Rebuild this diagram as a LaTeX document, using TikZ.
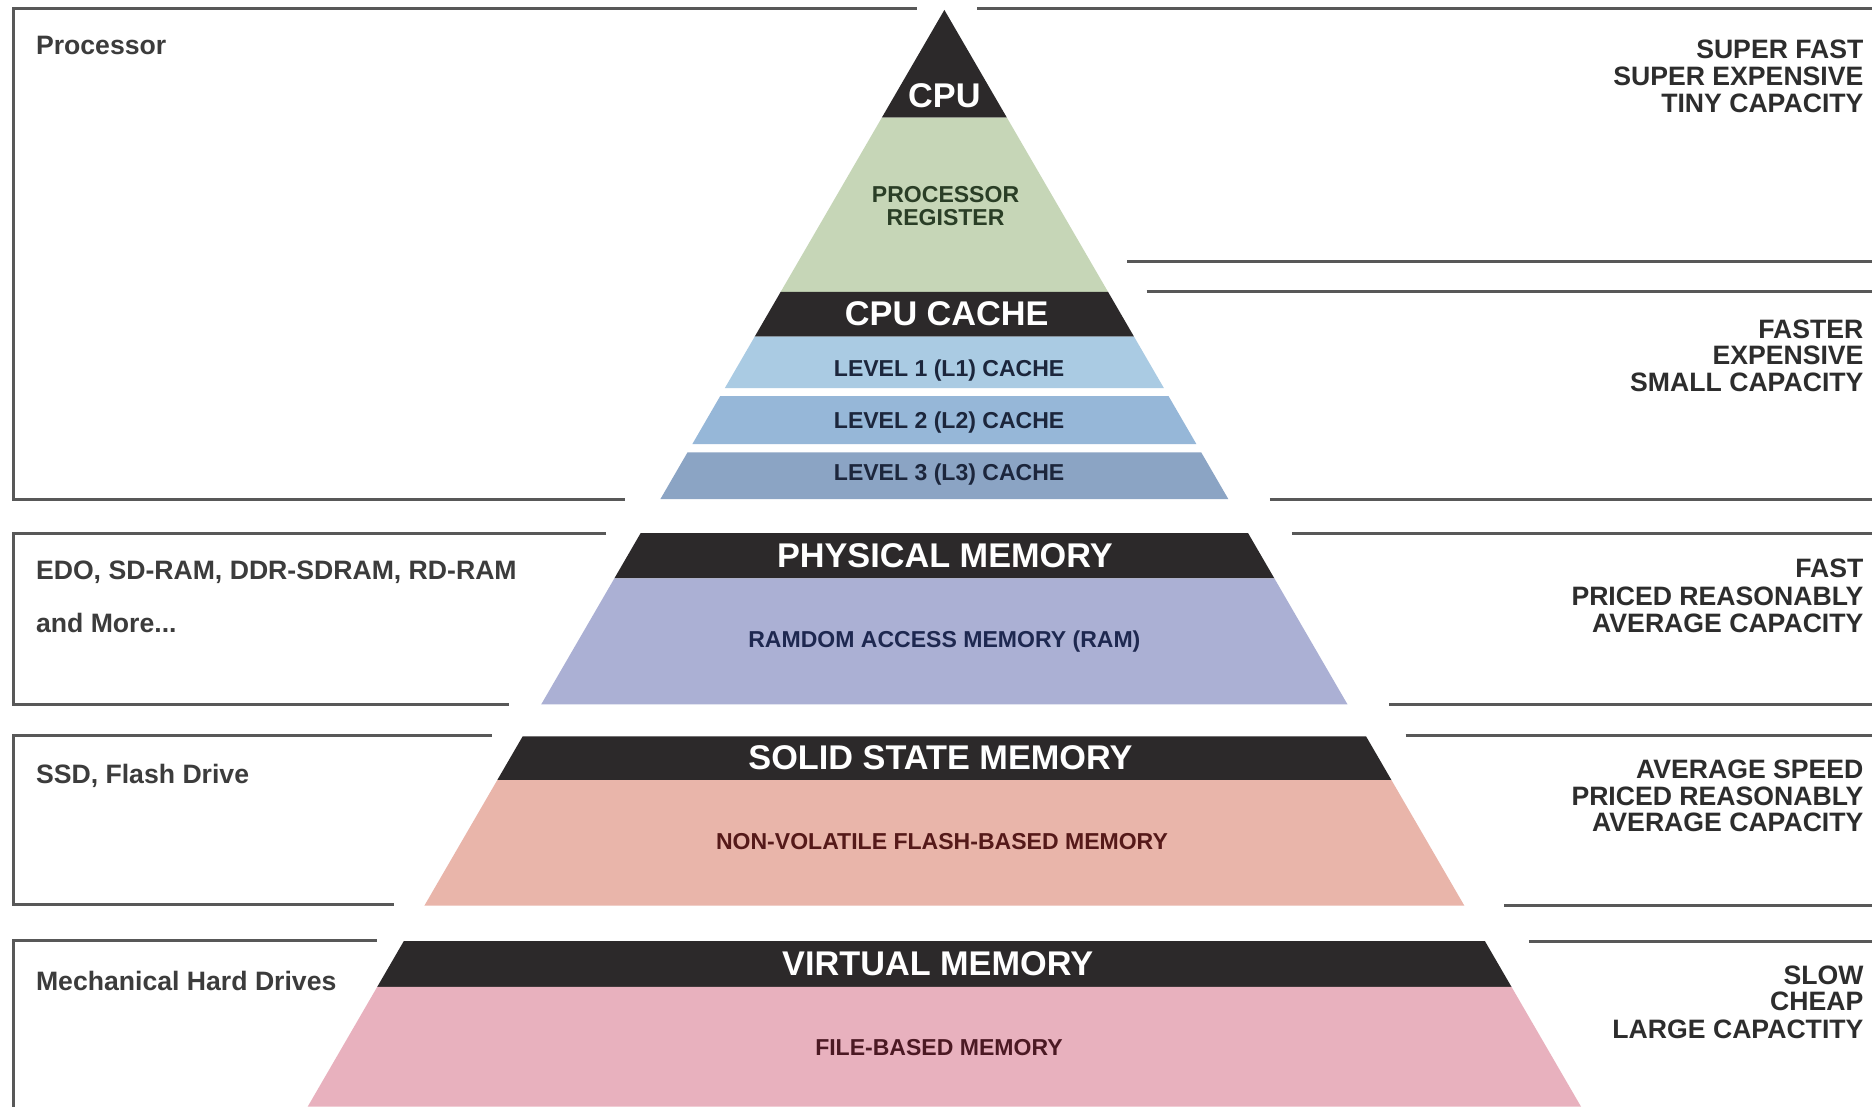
\documentclass[tikz,border=0pt]{standalone}
\usepackage{fontspec}
\setmainfont{Liberation Sans}
\definecolor{darkband}{RGB}{44,41,42}
\definecolor{regfill}{RGB}{198,214,183}
\definecolor{regtext}{RGB}{42,62,38}
\definecolor{lonefill}{RGB}{170,203,227}
\definecolor{ltwofill}{RGB}{150,183,216}
\definecolor{lthreefill}{RGB}{139,164,196}
\definecolor{cachetext}{RGB}{28,38,60}
\definecolor{ramfill}{RGB}{171,176,212}
\definecolor{ramtext}{RGB}{30,40,80}
\definecolor{ssdfill}{RGB}{233,181,170}
\definecolor{ssdtext}{RGB}{85,25,25}
\definecolor{vmfill}{RGB}{232,177,190}
\definecolor{vmtext}{RGB}{75,25,35}
\definecolor{linegray}{RGB}{88,88,88}
\definecolor{lefttext}{RGB}{60,60,60}
\definecolor{righttext}{RGB}{45,45,45}
\newcommand\fsz[1]{\fontsize{#1}{#1}\selectfont}
\newcommand\trapband[3]{\fill[#1] ({791-0.5805*(#2-8.3)},#2) -- ({791+0.5805*(#2-8.3)},#2) -- ({791+0.5805*(#3-8.3)},#3) -- ({791-0.5805*(#3-8.3)},#3) -- cycle;}
\begin{document}
\begin{tikzpicture}[x=1pt,y=-1pt,
  biglabel/.style={text=white, font=\bfseries\fsz{28.7}, inner sep=0pt, anchor=base},
  smalllabel/.style={font=\bfseries\fsz{19.3}, inner sep=0pt, anchor=base},
  lefttxt/.style={text=lefttext, font=\bfseries\fsz{22.3}, inner sep=0pt, anchor=base west},
  righttxt/.style={text=righttext, font=\bfseries\fsz{22.3}, inner sep=0pt, anchor=base east},
  rule/.style={line width=2.5pt, draw=linegray}]
\useasboundingbox (0,0) rectangle (1568,927);
\fill[white] (0,0) rectangle (1568,927);

% pyramid bands
\trapband{darkband}{8.3}{98.6}
\trapband{regfill}{98.6}{244.4}
\trapband{darkband}{244.4}{281.9}
\trapband{lonefill}{281.9}{325}
\trapband{ltwofill}{331.8}{372}
\trapband{lthreefill}{379}{418}
\trapband{darkband}{446.5}{484.5}
\trapband{ramfill}{484.5}{590}
\trapband{darkband}{616.7}{653.5}
\trapband{ssdfill}{653.5}{758.5}
\trapband{darkband}{788.3}{826.7}
\trapband{vmfill}{826.7}{927}

% frame lines
\draw[rule] (768,7) -- (11.2,7) -- (11.2,418) -- (523.5,418);
\draw[rule] (818.5,7) -- (1568,7);
\draw[rule] (944,219.4) -- (1568,219.4);
\draw[rule] (960.5,244.4) -- (1568,244.4);
\draw[rule] (1063.7,418) -- (1568,418);
\draw[rule] (507.6,446.5) -- (11.2,446.5) -- (11.2,589.8) -- (426.3,589.8);
\draw[rule] (1082,446.5) -- (1568,446.5);
\draw[rule] (1163.7,589.8) -- (1568,589.8);
\draw[rule] (412,615.8) -- (11.2,615.8) -- (11.2,758) -- (330,758);
\draw[rule] (1177.4,615.8) -- (1568,615.8);
\draw[rule] (1260,758.5) -- (1568,758.5);
\draw[rule] (315.7,787.5) -- (11.2,787.5) -- (11.2,928);
\draw[rule] (1280.6,788.3) -- (1568,788.3);

% pyramid labels
\node[biglabel] (cpu) at (791,90.3) {CPU};
\node[smalllabel, text=regtext] (proc) at (792,170) {PROCESSOR};
\node[smalllabel, text=regtext] (reg) at (792,188.8) {REGISTER};
\node[biglabel] (cache) at (793,273) {CPU CACHE};
\node[smalllabel, text=cachetext] (lone) at (795,315.2) {LEVEL 1 (L1) CACHE};
\node[smalllabel, text=cachetext] (ltwo) at (795,358.8) {LEVEL 2 (L2) CACHE};
\node[smalllabel, text=cachetext] (lthree) at (795,402.7) {LEVEL 3 (L3) CACHE};
\node[biglabel] (phys) at (791.4,475.6) {PHYSICAL MEMORY};
\node[smalllabel, text=ramtext] (ram) at (791,542.1) {RAMDOM ACCESS MEMORY (RAM)};
\node[biglabel] (ssd) at (787.7,644.9) {SOLID STATE MEMORY};
\node[smalllabel, text=ssdtext] (flash) at (789,711.5) {NON-VOLATILE FLASH-BASED MEMORY};
\node[biglabel] (virt) at (785.4,817.4) {VIRTUAL MEMORY};
\node[smalllabel, text=vmtext] (file) at (786.5,884.4) {FILE-BASED MEMORY};

% left texts
\node[lefttxt] (lproc) at (30,46) {Processor};
\node[lefttxt] (ledo) at (30,485) {EDO, SD-RAM, DDR-SDRAM, RD-RAM};
\node[lefttxt] (lmore) at (30,529.6) {and More...};
\node[lefttxt] (lssd) at (30,656.6) {SSD, Flash Drive};
\node[lefttxt] (lhdd) at (30,830) {Mechanical Hard Drives};

% right texts
\node[righttxt] (ra1) at (1561,49.4) {SUPER FAST};
\node[righttxt] (ra2) at (1561,71.6) {SUPER EXPENSIVE};
\node[righttxt] (ra3) at (1561,94.4) {TINY CAPACITY};
\node[righttxt] (rb1) at (1561,283.3) {FASTER};
\node[righttxt] (rb2) at (1561,305.5) {EXPENSIVE};
\node[righttxt] (rb3) at (1561,327.7) {SMALL CAPACITY};
\node[righttxt] (rc1) at (1561,484) {FAST};
\node[righttxt] (rc2) at (1561,507) {PRICED REASONABLY};
\node[righttxt] (rc3) at (1561,529.6) {AVERAGE CAPACITY};
\node[righttxt] (rd1) at (1561,651.8) {AVERAGE SPEED};
\node[righttxt] (rd2) at (1561,674.5) {PRICED REASONABLY};
\node[righttxt] (rd3) at (1561,696.8) {AVERAGE CAPACITY};
\node[righttxt] (re1) at (1561,824.3) {SLOW};
\node[righttxt] (re2) at (1561,846.4) {CHEAP};
\node[righttxt] (re3) at (1561,869.8) {LARGE CAPACTITY};
\end{tikzpicture}
\end{document}
